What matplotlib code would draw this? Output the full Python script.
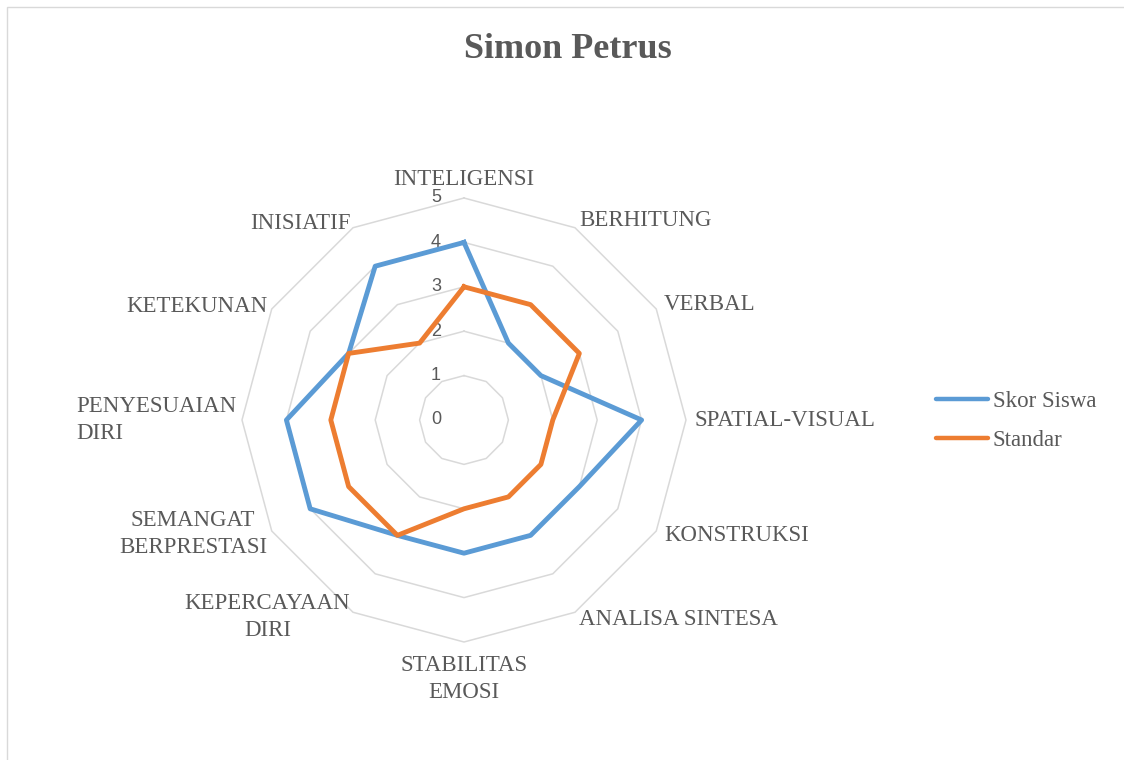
import matplotlib
matplotlib.use("Agg")
import matplotlib.pyplot as plt
import numpy as np
from matplotlib.patches import Rectangle

categories = [
    "INTELIGENSI", "BERHITUNG", "VERBAL", "SPATIAL-VISUAL", "KONSTRUKSI",
    "ANALISA SINTESA", "STABILITAS\nEMOSI", "KEPERCAYAAN\nDIRI",
    "SEMANGAT\nBERPRESTASI", "PENYESUAIAN\nDIRI", "KETEKUNAN", "INISIATIF",
]
skor_siswa = [4, 2, 2, 4, 3, 3, 3, 3, 4, 4, 3, 4]
standar = [3, 3, 3, 2, 2, 2, 2, 3, 3, 3, 3, 2]
ring_values = [1, 2, 3, 4, 5]
tick_labels = ["0", "1", "2", "3", "4", "5"]

BLUE = "#5B9BD5"
ORANGE = "#ED7D31"
GRID = "#D9D9D9"
TEXT = "#595959"

W, H = 1124, 760
fig = plt.figure(figsize=(W / 100, H / 100), dpi=100)

# chart-area border
fig.patches.append(Rectangle((7 / W, -0.01), 1.1, 1 - 7 / H + 0.01, transform=fig.transFigure,
                             fill=False, edgecolor=GRID, linewidth=1.0))

# axes so that one data unit = 44.4 px, centre at (464, 420)
cx, cy, unit, half = 464, 420, 44.4, 300
ax = fig.add_axes([(cx - half) / W, (H - cy - half) / H, 2 * half / W, 2 * half / H])
ax.set_xlim(-half / unit, half / unit)
ax.set_ylim(-half / unit, half / unit)
ax.axis("off")

n = len(categories)
angles = np.arange(n) * 2 * np.pi / n


def to_xy(values):
    v = np.asarray(values, dtype=float)
    x = v * np.sin(angles)
    y = v * np.cos(angles)
    return np.append(x, x[0]), np.append(y, y[0])


for r in ring_values:
    gx, gy = to_xy([r] * n)
    ax.plot(gx, gy, color=GRID, linewidth=1.1, zorder=1)

for i, lab in enumerate(tick_labels):
    ax.text(-0.63, i, lab, ha="center", va="center", fontsize=13,
            family="Liberation Sans", color=TEXT, zorder=2)

sx, sy = to_xy(skor_siswa)
ax.plot(sx, sy, color=BLUE, linewidth=3.5, solid_joinstyle="round", zorder=3, label="Skor Siswa")
ox, oy = to_xy(standar)
ax.plot(ox, oy, color=ORANGE, linewidth=3.5, solid_joinstyle="round", zorder=4, label="Standar")

for ang, lab in zip(angles, categories):
    s, c = np.sin(ang), np.cos(ang)
    if c > 0.9:
        r, ha, va = 5.19, "center", "bottom"
    elif c < -0.9:
        r, ha, va = 5.29, "center", "top"
    elif s > 0:
        r, ha, va = 5.2, "left", "center"
    else:
        r, ha, va = 5.12, "right", "center"
    ma = "left" if lab.startswith("PENYESUAIAN") else "center"
    ax.text(r * s, r * c, lab, ha=ha, va=va, multialignment=ma, fontsize=16.5,
            family="Liberation Serif", color=TEXT, linespacing=1.38, clip_on=False)

fig.text(568 / W, 1 - 50 / H, "Simon Petrus", ha="center", va="center", fontsize=26,
         fontweight="bold", family="Liberation Serif", color=TEXT)

leg = fig.legend(loc="center left", bbox_to_anchor=(915 / W, 1 - 421 / H), frameon=False,
                 prop={"family": "Liberation Serif", "size": 16.5}, handlelength=2.3,
                 handletextpad=0.2, labelspacing=0.8)
for t in leg.get_texts():
    t.set_color(TEXT)
for h in leg.legend_handles:
    h.set_solid_capstyle("round")
    h.set_linewidth(3.2)

fig.savefig("out.png", dpi=100)
